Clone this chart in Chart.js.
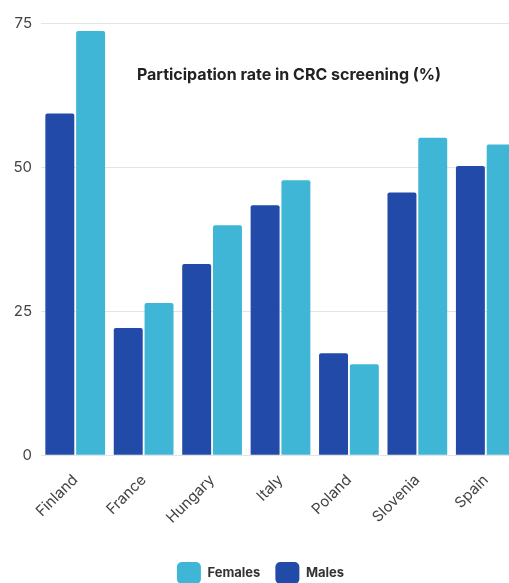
<!DOCTYPE html>
<html>
<head>
<meta charset="utf-8">
<script src="https://cdn.jsdelivr.net/npm/chart.js@4/dist/chart.umd.min.js"></script>
<style>
  html, body { margin: 0; padding: 0; background: #fff; overflow: hidden; }
  #wrap { width: 530px; height: 594px; }
</style>
</head>
<body>
<div id="wrap"><canvas id="c" width="530" height="594"></canvas></div>
<script>
// Participation rate in colorectal cancer screening, by sex
const countries = ['Finland', 'France', 'Hungary', 'Italy', 'Poland', 'Slovenia', 'Spain'];
const males     = [59.3, 22.1, 33.2, 43.4, 17.7, 45.6, 50.2];
const females   = [73.6, 26.4, 39.9, 47.7, 15.8, 55.1, 53.9];
const yTicks    = [0, 25, 50, 75];
const chartTitle = 'Participation rate in CRC screening (%)';

const MALE_COLOR = '#224aa8';
const FEMALE_COLOR = '#40b6d6';
const FONT = 'Inter, "Open Sans", sans-serif';

// Title drawn inside the plot area
const innerTitle = {
  id: 'innerTitle',
  afterDraw(chart) {
    const ctx = chart.ctx;
    ctx.save();
    ctx.font = 'bold 16px ' + FONT;
    ctx.fillStyle = '#222';
    ctx.textAlign = 'center';
    ctx.textBaseline = 'middle';
    ctx.fillText(chartTitle, 289, 75);
    ctx.restore();
  }
};

new Chart(document.getElementById('c'), {
  type: 'bar',
  data: {
    labels: countries,
    datasets: [
      { label: 'Males', data: males, backgroundColor: MALE_COLOR, borderRadius: 2, borderSkipped: 'bottom' },
      { label: 'Females', data: females, backgroundColor: FEMALE_COLOR, borderRadius: 2, borderSkipped: 'bottom' }
    ]
  },
  options: {
    responsive: false,
    devicePixelRatio: 1,
    animation: false,
    layout: { padding: { top: 23, left: 1, right: 10, bottom: 0 } },
    datasets: { bar: { categoryPercentage: 0.9, barPercentage: 0.94 } },
    scales: {
      x: {
        grid: { display: false },
        border: { display: false },
        afterFit(scale) {
          // rotated labels may overhang the left edge; do not reserve room for them
          scale.paddingLeft = 0;
          scale.paddingRight = 0;
          scale.height += 12;
        },
        ticks: {
          color: '#444',
          font: { family: FONT, size: 15 },
          minRotation: 45, maxRotation: 45, padding: 8
        }
      },
      y: {
        min: 0, max: 75,
        afterBuildTicks(scale) { scale.ticks = yTicks.map(v => ({ value: v })); },
        afterFit(scale) { scale.width = 40; },
        grid: { color: '#e4e4e4', drawTicks: false },
        border: { display: false },
        ticks: {
          color: '#444',
          font: { family: FONT, size: 15 },
          padding: 9
        }
      }
    },
    plugins: {
      tooltip: { enabled: false },
      title: { display: false },
      legend: {
        position: 'bottom',
        reverse: true,
        labels: {
          boxWidth: 24, boxHeight: 22, useBorderRadius: true, borderRadius: 5,
          padding: 15, color: '#333',
          font: { family: FONT, size: 13, weight: 'bold' }
        }
      }
    }
  },
  plugins: [innerTitle]
});
</script>
</body>
</html>
